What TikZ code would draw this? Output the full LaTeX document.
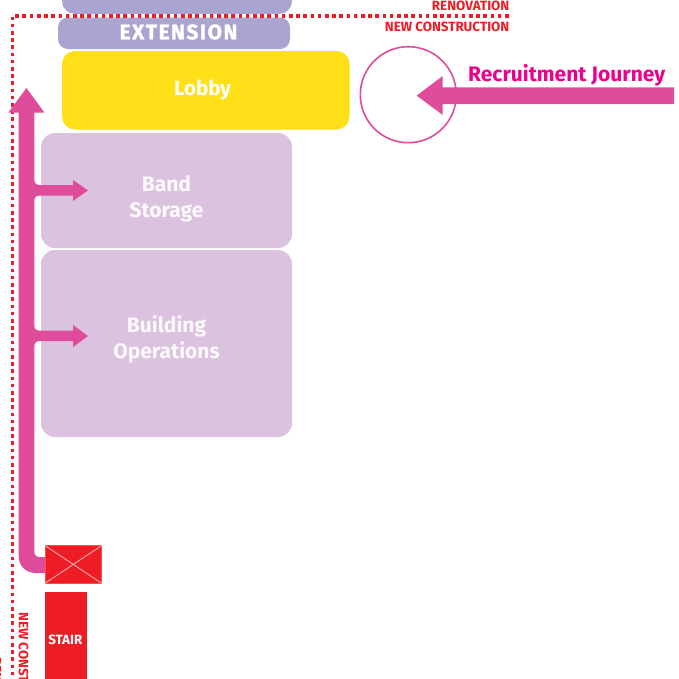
\documentclass[tikz,border=0pt]{standalone}
\usepackage{fontspec}
\setmainfont{Fira Sans}
\definecolor{ext}{HTML}{A9A4D0}
\definecolor{lob}{HTML}{FFDF17}
\definecolor{room}{HTML}{DBC3DF}
\definecolor{mag}{HTML}{E04C9C}
\definecolor{redc}{HTML}{EE1C25}
\definecolor{jour}{HTML}{EC008C}
\tikzset{
  lbl/.style={text=white,align=center,inner sep=0pt},
  roomlbl/.style={text=white!88!room,align=center,inner sep=0pt,font=\bfseries\fontsize{21}{26}\selectfont},
  redtxt/.style={text=redc,font=\bfseries\fontsize{13.4}{13.4}\selectfont,inner sep=0pt},
  dots/.style={draw=redc,line width=3.6pt,dash pattern=on 3.6pt off 3.6pt},
  arrowfill/.style={fill=mag,draw=none}
}
\begin{document}
\begin{tikzpicture}[x=1pt,y=-1pt]
\useasboundingbox (0,0) rectangle (679,678);
\clip (0,0) rectangle (679,678);
\fill[ext,rounded corners=13pt] (62,-30) rectangle (292,14);
\fill[ext,rounded corners=10pt] (58,17.5) rectangle (290,49);
\node[lbl,font=\bfseries\fontsize{21}{21}\selectfont\addfontfeature{LetterSpace=7,FakeBold=1.2}] (ext) at (178.5,32) {EXTENSION};
\fill[lob,rounded corners=13pt] (62,51) rectangle (349.5,129.5);
\node[lbl,font=\bfseries\fontsize{20.5}{20.5}\selectfont] (lobby) at (202.5,90) {Lobby};
\fill[room,rounded corners=14pt] (41,133) rectangle (292,248);
\fill[room,rounded corners=14pt] (41,250) rectangle (292,437);
\node[roomlbl] (band) at (166.5,198.5) {Band\\Storage};
\node[roomlbl] (ops) at (166.5,339) {Building\\Operations};
\coordinate (dA) at (508.5,16);
\coordinate (dB) at (12.3,16);
\coordinate (dC) at (12.3,678);
\draw[dots] (dA) -- (dB) -- (dC);
\node[redtxt,anchor=east] (reno) at (509.5,6) {RENOVATION};
\node[redtxt,anchor=east] (newc) at (509.5,27) {NEW CONSTRUCTION};
\node[redtxt,anchor=west,rotate=-90] (newv) at (23.5,612) {NEW CONSTRUCTION};
\node[redtxt,anchor=west,rotate=-90] (renov) at (-3.5,657) {RENOVATION};
\node[circle,draw=mag,line width=1.6pt,minimum size=96pt,inner sep=0pt] (circ) at (408.3,94.7) {};
\fill[arrowfill] (674,87.3) -- (442.7,87.3) -- (442.7,76) -- (416.7,95.6) -- (442.7,115) -- (442.7,104) -- (674,104) -- cycle;
\node[text=jour,font=\bfseries\fontsize{21}{21}\selectfont,inner sep=0pt,anchor=west] (rj) at (468,75) {Recruitment Journey};
\fill[arrowfill] (46,573) -- (36,573) .. controls (26,573) and (18.6,566) .. (18.6,556)
 -- (18.6,112.7) -- (8.3,112.7) -- (26.4,88) -- (44.5,112.7) -- (34.3,112.7)
 -- (34.3,179) .. controls (34.3,183) and (36,185) .. (40,185) -- (73,185) -- (73,180) -- (88,190.4) -- (73,201) -- (73,195.5) -- (40,195.5) .. controls (36,195.5) and (34.3,197.5) .. (34.3,201)
 -- (34.3,325) .. controls (34.3,329) and (36,330.7) .. (40,330.7) -- (73,330.7) -- (73,325) -- (88,336) -- (73,347) -- (73,341) -- (40,341) .. controls (36,341) and (34.3,343) .. (34.3,347)
 -- (34.3,551) .. controls (34.3,555) and (36,557) .. (40,557) -- (46,557) -- cycle;
\node[rectangle,fill=redc,draw=red!70!white,line width=.4pt,minimum width=56.5pt,minimum height=37.5pt,inner sep=0pt] (lift) at (73.3,564.4) {};
\draw[white!60!redc,line width=1pt] (lift.north west) -- (lift.south east) (lift.north east) -- (lift.south west);
\fill[redc] (45.3,591.7) rectangle (86.8,690);
\node[lbl,font=\bfseries\fontsize{13.4}{13.4}\selectfont] (stair) at (65.3,640) {STAIR};
\end{tikzpicture}
\end{document}
